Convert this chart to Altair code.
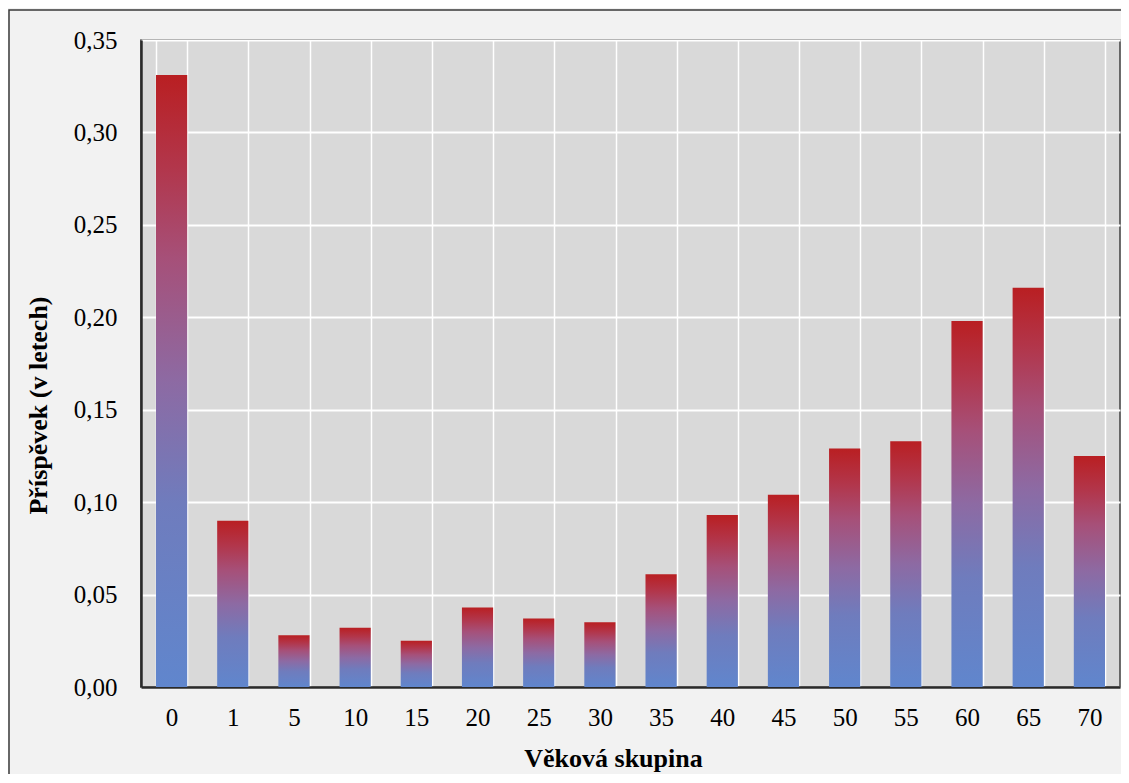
import altair as alt
import pandas as pd

groups = ["0", "1", "5", "10", "15", "20", "25", "30", "35", "40", "45", "50", "55", "60", "65", "70"]
values = [0.331, 0.090, 0.028, 0.032, 0.025, 0.043, 0.037, 0.035, 0.061, 0.093,
          0.104, 0.129, 0.133, 0.198, 0.216, 0.125]
y_ticks = [0.0, 0.05, 0.10, 0.15, 0.20, 0.25, 0.30, 0.35]

df = pd.DataFrame({"skupina": groups, "prispevek": values})

FONT = "'Liberation Serif', 'Times New Roman', 'DejaVu Serif', serif"

grad = alt.LinearGradient(
    gradient="linear", x1=0, y1=1, x2=0, y2=0,
    stops=[
        alt.GradientStop(offset=0.0, color="#6086cd"),
        alt.GradientStop(offset=0.3, color="#6f7cbd"),
        alt.GradientStop(offset=0.5, color="#8d6aa3"),
        alt.GradientStop(offset=0.7, color="#a65079"),
        alt.GradientStop(offset=0.85, color="#b2364b"),
        alt.GradientStop(offset=1.0, color="#b91f22"),
    ],
)

bars = alt.Chart(df).mark_bar(fill=grad).encode(
    x=alt.X(
        "skupina:N", sort=groups,
        scale=alt.Scale(paddingInner=0.49, paddingOuter=0.245),
        axis=alt.Axis(
            title="Věková skupina", labelAngle=0, tickBand="extent", ticks=False,
            grid=True, gridColor="white", gridWidth=1.5,
            domainColor="#2a2a2a", domainWidth=2.5,
            labelFont=FONT, labelFontSize=25, labelColor="black", labelPadding=18,
            titleFont=FONT, titleFontSize=26, titleFontWeight="bold", titleColor="black",
            titleX=472, titleY=71, titleBaseline="middle", titleAlign="center",
        ),
    ),
    y=alt.Y(
        "prispevek:Q",
        scale=alt.Scale(domain=[0, 0.35], nice=False),
        axis=alt.Axis(
            title="Příspěvek (v letech)", values=y_ticks, ticks=False,
            labelExpr="replace(format(datum.value, '.2f'), '.', ',')",
            grid=True, gridColor="white", gridWidth=2,
            domainColor="#2a2a2a", domainWidth=2.5,
            labelFont=FONT, labelFontSize=25, labelColor="black", labelPadding=24,
            titleFont=FONT, titleFontSize=26, titleFontWeight="bold", titleColor="black",
            titleX=-103, titleY=365, titleBaseline="middle", titleAlign="center", titleAngle=-90,
        ),
    ),
)

frame = alt.Chart(alt.Data(values=[{"a": 1}])).mark_rect(
    fill="transparent", stroke="#3a3a3a", strokeWidth=1.5
).encode(
    x=alt.value(-132), x2=alt.value(1300), y=alt.value(-30), y2=alt.value(1000)
)

chart = alt.layer(bars, frame).properties(
    width=979, height=647,
    autosize=alt.AutoSizeParams(type="none"),
    padding={"left": 133, "top": 32, "right": 1, "bottom": 87},
    background="#f2f2f2",
).configure_view(
    fill="#d9d9d9", stroke="#404040", strokeWidth=1.5
)

chart.save("out.html", embed_options={"renderer": "svg", "actions": False})
